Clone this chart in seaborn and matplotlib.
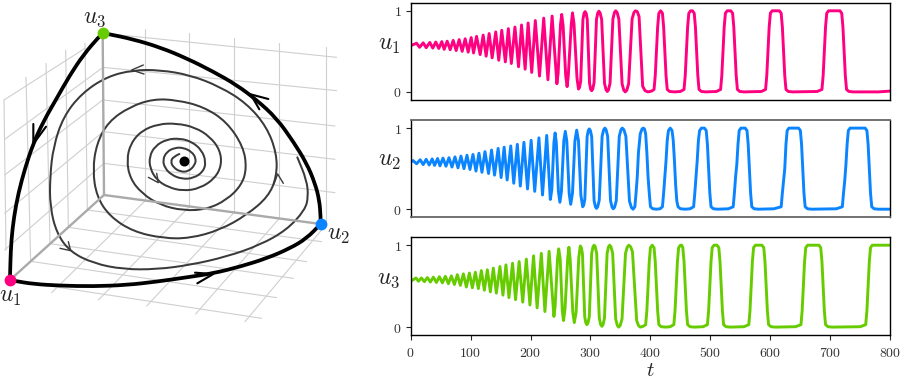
import matplotlib
matplotlib.use('Agg')
import matplotlib.pyplot as plt
import seaborn as sns
from matplotlib.path import Path
from matplotlib.patches import PathPatch

# puntos (t, u)
u1_points = [(0,.57),(10,.60),(15,.55),(21,.605),(26,.545),(32,.61),(37,.54),(42,.615),(47,.535),(52,.62),(56,.525),
    (61,.625),(66,.52),(71,.635),(76,.51),(81,.645),(86,.50),(91,.655),(96,.49),(101,.67),(105,.48),(110,.685),
    (116,.46),(121,.70),(126,.44),(131,.72),(136,.42),(142,.74),(147,.39),(152,.76),(158,.37),(163,.78),(168,.35),
    (174,.80),(180,.31),(185,.825),(191,.28),(196,.85),(202,.24),(208,.88),(215,.195),(222,.91),(229,.15),(236,.935),
    (244,.10),(246,.23),(250,.83),(252,.955),(254.3,.82),(258.7,.20),(261,.065),(263,.2),(268,.84),(270,.975),
    (272.5,.84),(277.5,.17),(280,.035),(281.7,.055),(283.6,.13),(287.4,.895),(289.3,.97),(291,.99),
    (292.7,.97),(294.6,.895),(298.4,.11),(300.3,.03),(302,.015),(303.8,.035),(306,.115),(310,.895),(312.2,.975),(314,.995),
    (316,.975),(318.6,.895),(323.4,.105),(326,.025),(328,.005),(330,.025),(332.6,.105),(337.4,.9),(340,.98),(342,1),
    (344.4,.98),(347.3,.9),(352.7,.1),(355.6,.02),(358,0),(360.5,.02),(363.6,.1),(369.4,.9),(372.5,.98),(375,1),
    (378,.99),(381,.93),(387,.07),(391,.015),(396,0),
    (402,.01),(406,.03),(408,.2),(410,.5),(412,.8),(414,.97),(417,1),(420,.97),(422,.8),(424,.5),(426,.2),(428,.03),(432,.005),(440,0),
    (450,.005),(456,.03),(458,.2),(460,.5),(462,.8),(464,.97),(467,1),(470,1),(473,.97),(475,.8),(477,.5),(479,.2),(481,.03),(485,.005),(492,0),
    (510,.005),(517,.03),(519,.2),(521,.5),(523,.8),(525,.97),(528,1),(534,1),(537,.97),(539,.8),(541,.5),(543,.2),(545,.03),(549,.005),(556,0),
    (585,.005),(592,.03),(594,.2),(596,.5),(598,.8),(600,.97),(603,1),(615,1),(618,.97),(620,.8),(622,.5),(624,.2),(626,.03),(630,.005),(637,0),
    (678,.005),(686,.03),(688,.2),(690,.5),(692,.8),(694,.97),(697,1),(716,1),(719,.97),(721,.8),(723,.5),(725,.2),(727,.03),(731,.005),(738,0),
    (780,0),(800,.01)]

u2_points = [(0,.58),(4,.60),(10,.56),(16,.61),(21,.55),(26,.615),(31,.545),(36,.62),(40,.54),(45,.625),(49,.535),
    (54,.63),(59,.53),(64,.635),(69,.52),(74,.645),(79,.51),(84,.655),(89,.50),(94,.665),(99,.49),(104,.675),(109,.47),
    (114,.69),(119,.455),(124,.71),(130,.44),(135,.73),(140,.42),(146,.75),(151,.39),(156,.765),(161,.36),(167,.78),
    (172,.32),(178,.80),(183,.285),(189,.825),(195,.25),(201,.85),(207,.22),(214,.88),(220,.175),(227,.91),(233,.12),
    (235.5,.24),(239,.82),(241,.94),(243,.82),(246.5,.22),(249,.085),(251.5,.22),(255.5,.84),(258,.96),(260.5,.84),
    (264.5,.19),(267,.06),(270,.2),(274,.84),(277,.975),(280,.84),(284,.17),(287,.03),(288.7,.05),(290.6,.125),(294.4,.895),
    (296.3,.97),(298,.99),(299.8,.97),(302,.895),(306,.105),(308.2,.03),(310,.01),(312,.03),(314.6,.11),(319.4,.9),(322,.98),(324,1),
    (326,.98),(328.6,.9),(333.4,.105),(336,.025),(338,.005),(340.2,.025),(343,.105),(348,.9),(350.8,.98),(353,1),
    (355.7,.98),(359,.9),(365,.1),(368.3,.02),(371,0),(374,.03),(376,.2),(378,.4),(380,.7),(383,.93),(386,.99),(388,1),(390,.99),(392,.93),
    (394,.7),(396,.4),(398,.2),(400,.03),(404,.005),(410,0),
    (416,.005),(420,.03),(422,.2),(424,.4),(426,.6),(428,.85),(430,.97),(433,1),(436,.97),(438,.85),(440,.6),(442,.3),(444,.1),(446,.03),(450,.005),(458,0),
    (466,.005),(472,.03),(474,.2),(476,.4),(478,.6),(480,.85),(482,.97),(485,1),(490,1),(493,.97),(495,.8),(497,.5),(499,.2),(501,.03),(505,.005),(512,0),
    (530,.005),(538,.03),(540,.2),(542,.4),(544,.55),(546,.8),(548,.97),(551,1),(558,1),(561,.97),(563,.8),(565,.5),(567,.2),(569,.03),(573,.005),(580,0),
    (606,.005),(618,.03),(620,.2),(622,.35),(624,.5),(626,.8),(628,.97),(631,1),(647,1),(650,.97),(652,.8),(654,.5),(656,.2),(658,.03),(662,.005),(669,0),
    (710,.005),(720,.03),(722,.2),(724,.35),(726,.55),(728,.8),(730,.97),(733,1),(758,1),(761,.97),(763,.8),(765,.5),(767,.2),(769,.03),(773,.005),(780,0),
    (800,0)]

u3_points = [(0,.56),(9,.60),(13,.56),(18,.60),(23,.555),(28,.605),(33,.55),(38,.61),(43,.545),(48,.615),(53,.54),(58,.62),
    (63,.53),(68,.625),(73,.52),(78,.64),(83,.51),(88,.65),(93,.49),(98,.66),(103,.48),(108,.67),(113,.47),(118,.69),
    (123,.45),(128,.70),(133,.43),(138,.72),(143,.415),(149,.74),(154,.39),(159,.76),(164,.36),(170,.78),(175,.335),
    (181,.80),(187,.305),(193,.83),(199,.27),(205,.87),(211,.235),(218,.90),(224,.19),(231,.925),(239,.13),(241,.25),
    (245,.83),(247,.955),(249.5,.83),(253,.2),(255,.08),(257.5,.22),(262,.84),(264,.975),(266,.84),(270.5,.18),(273,.055),
    (276,.18),(280.5,.85),(283,.99),(284.7,.97),(286.6,.895),(290.4,.125),(292.3,.05),(294,.03),(295.8,.05),(298,.125),(302,.9),
    (304.2,.98),(306,1),(308,.98),(310.3,.9),(314.7,.11),(317,.03),(319,.01),(321,.03),(323.3,.11),(327.7,.9),(330,.98),(332,1),
    (334.2,.98),(337,.9),(342,.1),(344.8,.02),(347,0),(349.5,.02),(352.6,.1),(358.4,.9),(361.5,.98),(364,1),
    (367,.98),(370,.92),(377,.08),(380,.02),(383,0),
    (388,.01),(392,.03),(394,.2),(396,.5),(398,.8),(400,.97),(403,1),(406,.97),(408,.8),(410,.5),(412,.2),(414,.03),(418,.005),(426,0),
    (433,.005),(439,.03),(441,.2),(443,.5),(445,.8),(447,.97),(450,1),(452,1),(454,.97),(456,.8),(458,.5),(460,.2),(462,.03),(466,.005),(473,0),
    (488,.005),(495,.03),(497,.2),(499,.5),(501,.8),(503,.97),(506,1),(511,1),(514,.97),(516,.8),(518,.5),(520,.2),(522,.03),(526,.005),(533,0),
    (556,.005),(564,.03),(566,.2),(568,.5),(570,.8),(572,.97),(575,1),(586,1),(589,.97),(591,.8),(593,.5),(595,.2),(597,.03),(601,.005),(608,0),
    (642,.005),(651,.03),(653,.2),(655,.5),(657,.8),(659,.97),(662,1),(681,1),(684,.97),(686,.8),(688,.5),(690,.2),(692,.03),(696,.005),(703,0),
    (750,.005),(759,.03),(761,.2),(763,.5),(765,.8),(767,.97),(770,1),(800,1)]

series_names = ['$u_1$', '$u_2$', '$u_3$']
series_colors = ['#ff0080', '#0a84ff', '#66cc00']
t_ticks = [0, 100, 200, 300, 400, 500, 600, 700, 800]

# parte izquierda: coordenadas
corner_u1 = (30, 840)
corner_u2 = (962, 672)
corner_u3 = (308, 100)
center = (551, 482)
box_origin = (312, 585)

right_wall = [((436,602),(436,88)), ((568,620),(568,100)), ((702,638),(702,115)), ((838,655),(838,128)), ((978,674),(978,142)),
    ((312,100),(1010,172)), ((308,202),(1010,272)), ((310,300),(1005,378)), ((312,395),(1005,478)), ((312,490),(1005,578))]
left_wall = [((255,145),(12,300)), ((305,205),(14,418)), ((308,300),(14,525)), ((310,395),(14,640)), ((312,490),(14,750)),
    ((12,300),(18,750)), ((78,232),(92,784)), ((138,190),(150,731)), ((197,150),(205,682)), ((255,130),(262,630))]
floor = [((262,630),(965,725)), ((205,682),(920,785)), ((150,731),(880,835)), ((92,784),(830,893)), ((30,840),(785,955)),
    ((436,602),(155,878)), ((568,620),(295,900)), ((702,638),(440,918)), ((838,655),(587,942)), ((978,674),(735,965))]

edge_31 = [(308,100),(295,112),(250,165),(210,225),(170,295),(130,365),(100,430),(75,505),(55,580),(42,650),(34,720),(31,790),(30,840)]
edge_23 = [(962,672),(962,650),(958,600),(945,550),(920,490),(880,425),(830,355),(770,300),(710,255),(640,215),(560,175),(480,142),(400,118),(325,102),(308,100)]
edge_12 = [(30,840),(45,843),(100,852),(180,857),(280,859),(380,855),(470,845),(560,832),(640,820),(720,800),(800,775),(870,745),(920,715),(962,672)]

spiral = [(538,462),(520,470),(512,485),(520,502),(540,515),(565,515),(585,495),(588,475),(575,455),(550,443),(525,443),(500,455),
    (488,480),(495,505),(515,525),(545,537),(580,535),(610,515),(618,485),(605,450),(575,425),(540,415),(500,418),(465,438),
    (448,470),(450,505),(470,540),(505,562),(550,573),(600,565),(645,535),(665,495),(660,450),(630,410),(585,382),(530,370),
    (475,372),(425,392),(392,430),(380,480),(390,535),(425,580),(480,615),(550,632),(620,628),(680,600),(725,555),(740,505),
    (730,440),(680,365),(610,320),(530,300),(460,297),(390,320),(325,365),(290,430),(278,510),(290,590),(330,650),(400,695),
    (490,715),(570,715),(660,690),(740,645),(805,590),(830,530),(830,460),(800,380),(740,310),(660,260),(570,225),(480,210),
    (400,210),(320,230),(245,280),(190,350),(160,440),(150,530),(150,620),(170,700),(210,755),(280,790),(370,808),(470,808),
    (570,795),(680,770),(780,735),(860,690),(915,630),(925,590),(920,540),(892,472)]

thin_arrows = [[(430,195),(395,210),(432,222)], [(822,552),(833,522),(850,550)], [(205,725),(212,752),(180,745)], [(470,520),(475,548),(445,532)]]
thick_arrows = [[(100,372),(100,432),(138,380)], [(805,297),(752,283),(778,328)], [(585,818),(640,822),(592,850)]]


def curva(ax, puntos, color, lw):
    # curva suave que usa los puntos como control
    verts = [puntos[0]]
    codes = [Path.MOVETO]
    for i in range(1, len(puntos) - 1):
        sig = puntos[i + 1]
        verts += [puntos[i], ((puntos[i][0] + sig[0]) / 2, (puntos[i][1] + sig[1]) / 2)]
        codes += [Path.CURVE3, Path.CURVE3]
    verts.append(puntos[-1])
    codes.append(Path.LINETO)
    ax.add_patch(PathPatch(Path(verts, codes), fc='none', ec=color, lw=lw, capstyle='round'))


def main():
    sns.set_style('ticks')
    plt.rcParams['mathtext.fontset'] = 'cm'

    fig = plt.figure(figsize=(9, 3.8), dpi=100)

    # ---- retrato de fase ----
    ax3d = fig.add_axes([0, 40 / 380, 360 / 900, 340 / 380])

    for seg in right_wall + left_wall + floor:
        ax3d.plot([seg[0][0], seg[1][0]], [seg[0][1], seg[1][1]], color='#cfcfcf', lw=0.8, zorder=1)
    for corner in (corner_u1, corner_u2, corner_u3):
        ax3d.plot([box_origin[0], corner[0]], [box_origin[1], corner[1]], color='#aaaaaa', lw=1.7, zorder=2)

    curva(ax3d, spiral, '#3a3a3a', 1.45)
    for arrow in thin_arrows:
        ax3d.plot(*zip(*arrow), color='#3a3a3a', lw=1.0, zorder=3)
    for edge in (edge_31, edge_23, edge_12):
        curva(ax3d, edge, 'black', 2.7)
    for arrow in thick_arrows:
        ax3d.plot(*zip(*arrow), color='black', lw=1.5, zorder=3)

    for point, color in zip((corner_u1, corner_u2, corner_u3, center), series_colors + ['black']):
        sns.scatterplot(x=[point[0]], y=[point[1]], color=color, s=72 if color != 'black' else 52,
                        linewidth=0, zorder=5, ax=ax3d, legend=False)
    ax3d.set_xlim(0, 1080)
    ax3d.set_ylim(1020, 0)
    ax3d.axis('off')

    ax3d.text(285, 52, '$u_3$', fontsize=17, ha='center', va='center', color='#222222')
    ax3d.text(32, 888, '$u_1$', fontsize=17, ha='center', va='center', color='#222222')
    ax3d.text(1015, 703, '$u_2$', fontsize=17, ha='center', va='center', color='#222222')

    # ---- series de tiempo ----
    boxes = [(2.7, 100), (120, 217.3), (237, 335.3)]
    all_points = [u1_points, u2_points, u3_points]
    label_y = [0.58, 0.59, 0.585]
    for i in range(3):
        top, bottom = boxes[i]
        ax = fig.add_axes([410.6 / 900, 1 - bottom / 380, 479.7 / 900, (bottom - top) / 380])
        t, u = zip(*all_points[i])
        sns.lineplot(x=list(t), y=list(u), color=series_colors[i], lw=2.1, sort=False, estimator=None, ax=ax)
        ax.set_xlim(0, 800)
        ax.set_ylim(-0.1, 1.1)
        ax.set_yticks([0, 1])
        ax.set_yticklabels(['$0$', '$1$'], fontsize=10, color='#333333')
        ax.set_ylabel(series_names[i], fontsize=17, rotation=0, ha='center', va='center', color='#222222')
        ax.yaxis.set_label_coords(-0.045, label_y[i])
        ax.tick_params(axis='y', length=3.5, width=0.8, pad=3)
        for spine in ax.spines.values():
            spine.set_visible(True)
            spine.set_color('black')
            spine.set_linewidth(1.0)
        if i == 1:
            ax.spines['top'].set_color('#666666')
            ax.spines['bottom'].set_color('#666666')
            ax.spines['top'].set_linewidth(1.3)
            ax.spines['bottom'].set_linewidth(1.3)
        if i == 2:
            ax.set_xticks(t_ticks)
            ax.set_xticklabels(['$%d$' % v for v in t_ticks], fontsize=10, color='#333333')
            ax.tick_params(axis='x', length=3.5, width=0.8, pad=4)
            ax.set_xlabel('$t$', fontsize=15, labelpad=0, color='#222222')
        else:
            ax.set_xticks([])

    plt.savefig('out.png', dpi=100)


if __name__ == '__main__':
    main()
